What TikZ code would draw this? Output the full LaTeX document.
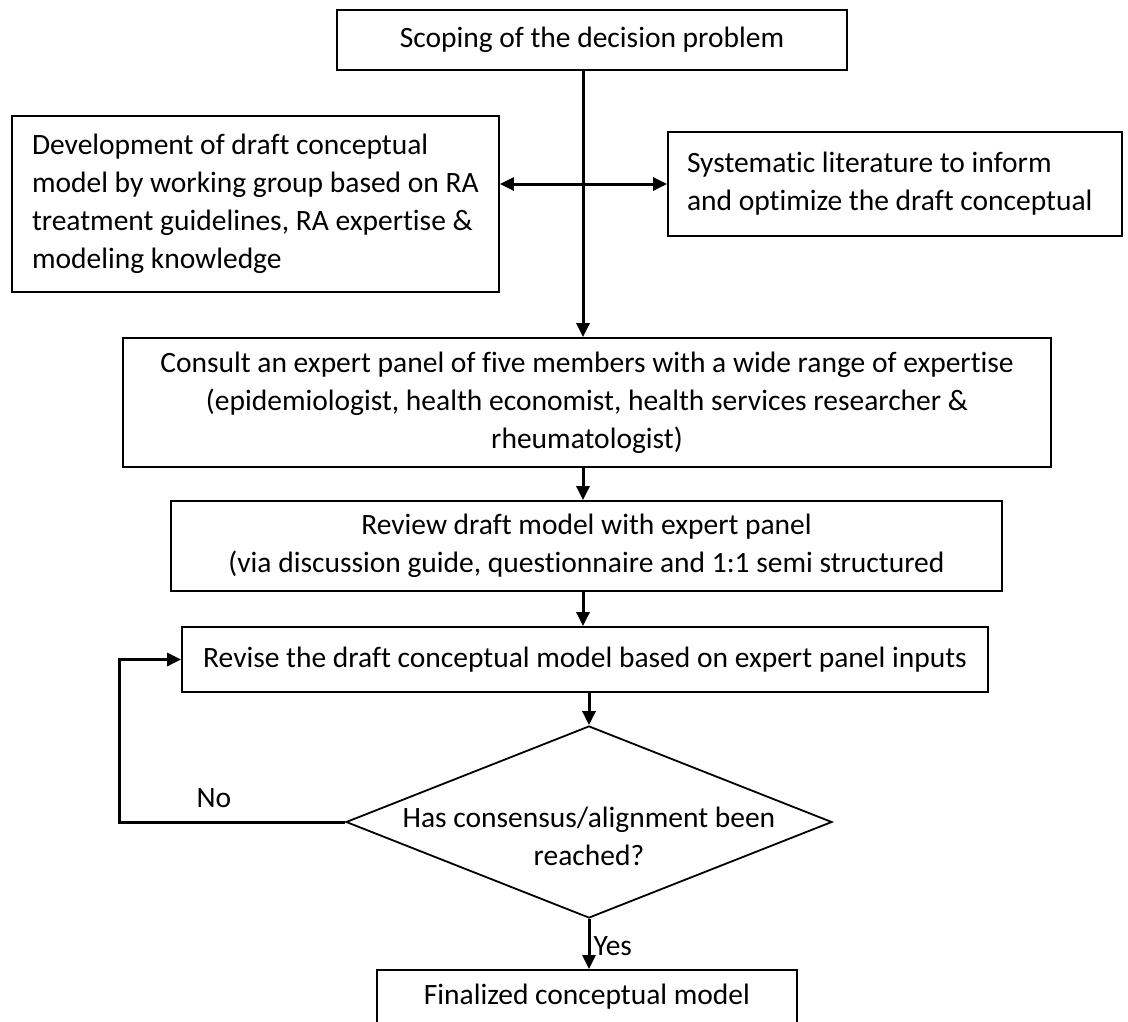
\documentclass[tikz,border=0pt]{standalone}
\usepackage{fontspec}
\setmainfont{Carlito}[Ligatures=NoCommon]
\usetikzlibrary{shapes.geometric,arrows.meta}
\tikzset{
  box/.style={draw, line width=1.8pt, inner sep=0pt, font=\fontsize{29.5}{38}\selectfont},
  decision/.style={draw, diamond, line width=1.8pt, minimum width=486pt, minimum height=192pt, inner sep=0pt},
  tag/.style={font=\fontsize{29.5}{38}\selectfont, inner sep=3pt},
  flow/.style={line width=3pt, -{Triangle[length=14pt,width=13pt]}},
  both/.style={line width=3pt, {Triangle[length=14pt,width=13pt]}-{Triangle[length=14pt,width=13pt]}}
}

\begin{document}
\begin{tikzpicture}[x=1pt,y=-1pt]
\clip (0,0) rectangle (1128,1021);
\coordinate (trunk) at (583,0);
\coordinate (back) at (119,0);

\node[box, minimum width=510, minimum height=60] (scope) at (592,40) {Scoping of the decision problem};
\node[box, text width=447, inner xsep=20, align=flush left, minimum height=176] (dev) at (255.5,204)
  {Development of draft conceptual\\model by working group based on RA\\treatment guidelines, RA expertise \&\\modeling knowledge};
\node[box, text width=416, inner xsep=19, align=flush left, minimum height=104] (sys) at (895,184)
  {Systematic literature to inform\\and optimize the draft conceptual};
\node[box, align=center, minimum width=928, minimum height=129] (consult) at (587,402.5)
  {Consult an expert panel of five members with a wide range of expertise\\(epidemiologist, health economist, health services researcher \&\\rheumatologist)};
\node[box, align=center, minimum width=831, minimum height=90] (review) at (586.5,546)
  {Review draft model with expert panel\\(via discussion guide, questionnaire and 1:1 semi structured};
\node[box, minimum width=806, minimum height=65] (revise) at (585,659.5)
  {Revise the draft conceptual model based on expert panel inputs};
\node[decision, label={[tag, align=center, yshift=-14pt]center:Has consensus/alignment been\\reached?}] (dec) at (589,822) {};
\node[box, anchor=north, minimum width=420, inner ysep=14, text height=21, text depth=60] (final) at (587,969)
  {Finalized conceptual model};

\draw[flow] (scope.south -| trunk) -- (consult.north -| trunk);
\draw[both] (dev.east |- sys.west) -- (sys.west);
\draw[flow] (consult.south -| trunk) -- (review.north -| trunk);
\draw[flow] (review.south -| trunk) -- (revise.north -| trunk);
\draw[flow] (revise.south -| dec.north) -- (dec.north);
\draw[flow] (dec.south) -- node[tag, right, pos=0.55]{Yes} (final.north -| dec.south);
\draw[flow] (dec.west) -- node[tag, above=10pt, pos=0.58]{No} (dec.west -| back) |- (revise.west);
\end{tikzpicture}
\end{document}
